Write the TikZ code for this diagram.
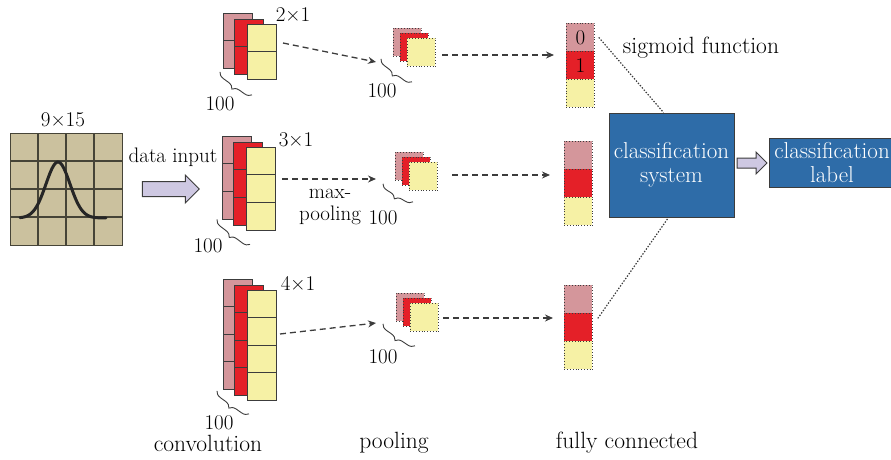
\documentclass[tikz,border=0pt]{standalone}
\usetikzlibrary{arrows.meta,decorations.pathreplacing,shapes.arrows,calc}
\definecolor{cpink}{RGB}{212,150,155}
\definecolor{cred}{RGB}{228,32,40}
\definecolor{cyel}{RGB}{246,241,165}
\definecolor{ctan}{RGB}{203,193,158}
\definecolor{cgrid}{RGB}{70,68,55}
\definecolor{cblue}{RGB}{46,108,168}
\definecolor{clav}{RGB}{206,200,226}
\definecolor{cline}{RGB}{60,60,60}
\newcommand{\convstack}[4]{% name, x, y (pink top-left), cells
  \pgfmathsetmacro\hh{#4*27.5}
  \pgfmathtruncatemacro\nn{#4-1}
  \foreach \col/\dx/\dy/\nm in {cpink/0/0/a, cred/11/6/b, cyel/24/11/c}{
    \node[convcell, fill=\col, minimum height=\hh pt] (#1\nm) at (#2+\dx,#3+\dy) {};
    \foreach \k in {1,...,\nn}{
      \draw[convdiv] ($(#1\nm.north west)+(0,\k*27.5)$) -- ++(29,0);
    }
  }
}
\newcommand{\poolstack}[3]{% name, x, y
  \foreach \col/\dx/\dy/\nm in {cpink/0/0/a, cred/7/5/b, cyel/14/10/c}{
    \node[poolcell, fill=\col] (#1\nm) at (#2+\dx,#3+\dy) {};
  }
}
\newcommand{\fcstack}[3]{% name, x, y
  \foreach \col/\dy/\nm in {cpink/0/a, cred/28/b, cyel/56/c}{
    \node[fccell, fill=\col] (#1\nm) at (#2,#3+\dy) {};
  }
}
\begin{document}
\begin{tikzpicture}[x=1pt,y=-1pt,
  font=\fontsize{21}{22}\selectfont,
  convcell/.style={draw=cline, line width=0.9pt, inner sep=0pt, minimum width=29pt, anchor=north west},
  convdiv/.style={draw=cline, line width=0.9pt},
  poolcell/.style={draw=cline, dotted, line width=0.8pt, inner sep=0pt, minimum width=28pt, minimum height=28pt, anchor=north west},
  fccell/.style={draw=cline, dotted, line width=0.8pt, inner sep=0pt, minimum width=28pt, minimum height=28pt, anchor=north west},
  brc/.style={decorate, decoration={brace, amplitude=7pt}, draw=cline, line width=0.9pt},
  darr/.style={draw=cline, dashed, dash pattern=on 6pt off 4pt, line width=1.3pt, -{Stealth[length=8pt,width=7pt]}},
  dotl/.style={draw=cline, dash pattern=on 1.4pt off 1.6pt, line width=1.2pt},
  blk/.style={draw=cline, line width=1pt, fill=cblue, text=white, align=center, inner sep=0pt, font=\fontsize{23}{23.5}\selectfont},
  harr/.style={single arrow, draw=cline, fill=clav, line width=1pt, inner xsep=0pt, text height=0pt, text depth=0pt, text width=0pt},
  lbl/.style={inner sep=0pt, align=center},
  big/.style={inner sep=0pt, align=center, font=\fontsize{23.5}{24}\selectfont}]
\useasboundingbox (0,0) rectangle (891,460);
\clip (0,0) rectangle (891,460);

% input grid
\node[draw=cgrid, fill=ctan, line width=1.2pt, minimum width=112pt, minimum height=112pt, inner sep=0pt, anchor=north west] (inp) at (10,133) {};
\foreach \k in {1,2,3}{
  \draw[cgrid, line width=1.1pt] ($(inp.north west)+(\k*28,0)$) -- ++(0,112);
  \draw[cgrid, line width=1.1pt] ($(inp.north west)+(0,\k*28)$) -- ++(112,0);
}
\draw[black!85, line width=3pt, line cap=round] plot[domain=20:106, samples=60, smooth] (\x, {218-56*exp(-((\x-58)/17)^2)});
\node[lbl] (t915) at (63,120) {9×15};

% data input arrow
\node[lbl] (tdata) at (173,157) {data input};
\node[harr, minimum height=57pt, inner ysep=7pt, single arrow head extend=6.5pt] (inarr) at (167,189) {};

% convolution stacks
\convstack{c1}{223}{13}{2}
\convstack{c2}{222}{136}{3}
\convstack{c3}{223}{279}{4}
\node[lbl] (t21) at (293,15) {2×1};
\node[lbl] (t31) at (296,140) {3×1};
\node[lbl] (t41) at (298,283) {4×1};
\draw[brc] ($(c1c.south west)+(5,15)$) -- ($(c1a.south west)+(-3,3)$);
\draw[brc] ($(c2c.south west)+(4,14)$) -- ($(c2a.south west)+(-5,0)$);
\draw[brc] ($(c3c.south west)+(2,13)$) -- ($(c3a.south west)+(-6,1)$);
\node[lbl] (h1) at (220,104) {100};
\node[lbl] (h2) at (208,246) {100};
\node[lbl] (h3) at (219,423) {100};

% pooling stacks
\poolstack{p1}{393}{28}
\poolstack{p2}{395}{152}
\poolstack{p3}{396}{293}
\draw[brc] ($(p1c.south west)+(5,15)$) -- ($(p1a.south west)+(-12,2)$);
\draw[brc] ($(p2c.south west)+(4,11)$) -- ($(p2a.south west)+(-12,3)$);
\draw[brc] ($(p3c.south west)+(5,14)$) -- ($(p3a.south west)+(-13,2)$);
\node[lbl] (q1) at (382,91) {100};
\node[lbl] (q2) at (383,218) {100};
\node[lbl] (q3) at (383,357) {100};
\node[lbl] (tmax) at (330,207) {max-\\pooling};

% fully connected
\fcstack{f1}{566}{23}
\fcstack{f2}{564}{141}
\fcstack{f3}{564}{285}
\node[lbl] at (f1a) {0};
\node[lbl] at (f1b) {1};
\node[big] (tsig) at (701,48) {sigmoid function};

% classification
\node[blk, minimum width=125pt, minimum height=104pt] (cls) at (671.5,165) {classification\\system};
\node[blk, minimum width=126pt, minimum height=49pt] (lab) at (832,162.5) {classification\\label};
\node[harr, minimum height=30pt, inner ysep=4.5pt, single arrow head extend=6pt] (outarr) at (749.5,163) {};

% dashed arrows
\coordinate (a1s) at (283,43);  \coordinate (a1e) at (376,62);
\coordinate (a2s) at (282,179); \coordinate (a2e) at (376,179);
\coordinate (a3s) at (280,334); \coordinate (a3e) at (376,323);
\draw[darr] (a1s) -- (a1e);
\draw[darr] (a2s) -- (a2e);
\draw[darr] (a3s) -- (a3e);
\coordinate (b1s) at (442,55);  \coordinate (b1e) at (554,55);
\coordinate (b2s) at (452,175); \coordinate (b2e) at (550,175);
\coordinate (b3s) at (443,318); \coordinate (b3e) at (553,318);
\draw[darr] (b1s) -- (b1e);
\draw[darr] (b2s) -- (b2e);
\draw[darr] (b3s) -- (b3e);

% dotted lines to classifier
\draw[dotl] ($(f1a.east)+(4,0)$) -- ($(cls.north)+(-8,0)$);
\draw[dotl] ($(f3b.east)+(5,-9)$) -- ($(cls.south)+(-3,0)$);

% bottom labels
\node[big] (lconv) at (208,443) {convolution};
\node[big] (lpool) at (394,443) {pooling};
\node[big] (lfc) at (627,443) {fully connected};
\end{tikzpicture}
\end{document}
